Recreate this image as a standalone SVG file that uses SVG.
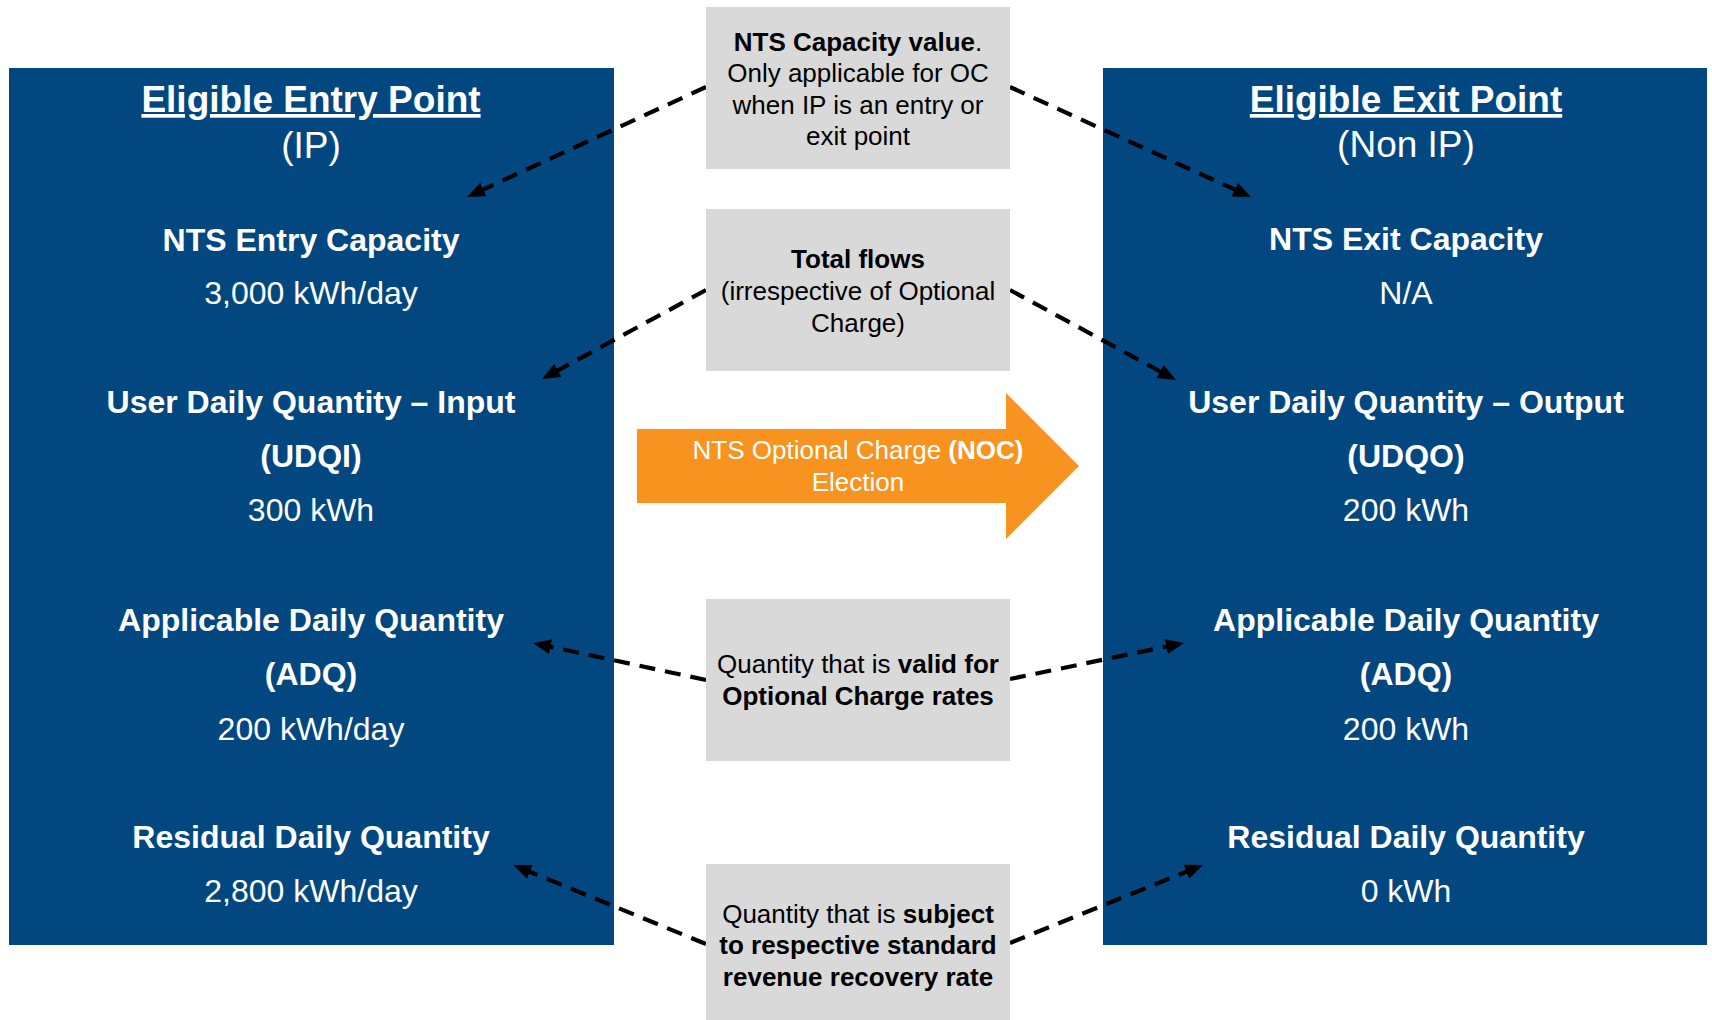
<svg xmlns="http://www.w3.org/2000/svg" width="1712" height="1020" viewBox="0 0 1712 1020">
<style>
text{font-family:"Liberation Sans",Arial,Helvetica,sans-serif;text-anchor:middle}
.blue{fill:#02477F}
.gray{fill:#D9D9D9}
.w{fill:#FFFFFF;font-size:32px}
.hd{fill:#FFFFFF;font-size:37px}
.g{fill:#000000;font-size:26px}
.b{font-weight:bold}
.conn{fill:none;stroke:#000000;stroke-width:4.2;stroke-dasharray:16 10}
</style>
<defs>
<marker id="ah" markerUnits="userSpaceOnUse" markerWidth="20" markerHeight="16" refX="2" refY="7.5" orient="auto" viewBox="0 0 20 15">
<path d="M0,0 L18,7.5 L0,15 z" fill="#000000"/>
</marker>
</defs>
<rect width="1712" height="1020" fill="#FFFFFF"/>
<g id="entry-point">
<rect class="blue" x="9" y="68" width="605" height="877"/>
<text class="hd b" x="311" y="112" text-decoration="underline">Eligible Entry Point</text>
<text class="hd" x="311" y="158">(IP)</text>
<text class="w b" x="311" y="251">NTS Entry Capacity</text>
<text class="w" x="311" y="304">3,000 kWh/day</text>
<text class="w b" x="311" y="413">User Daily Quantity – Input</text>
<text class="w b" x="311" y="467">(UDQI)</text>
<text class="w" x="311" y="521">300 kWh</text>
<text class="w b" x="311" y="631">Applicable Daily Quantity</text>
<text class="w b" x="311" y="685">(ADQ)</text>
<text class="w" x="311" y="740">200 kWh/day</text>
<text class="w b" x="311" y="848">Residual Daily Quantity</text>
<text class="w" x="311" y="902">2,800 kWh/day</text>
</g>
<g id="exit-point">
<rect class="blue" x="1103" y="68" width="604" height="877"/>
<text class="hd b" x="1406" y="112" text-decoration="underline">Eligible Exit Point</text>
<text class="hd" x="1406" y="157">(Non IP)</text>
<text class="w b" x="1406" y="250">NTS Exit Capacity</text>
<text class="w" x="1406" y="304">N/A</text>
<text class="w b" x="1406" y="413">User Daily Quantity – Output</text>
<text class="w b" x="1406" y="467">(UDQO)</text>
<text class="w" x="1406" y="521">200 kWh</text>
<text class="w b" x="1406" y="631">Applicable Daily Quantity</text>
<text class="w b" x="1406" y="685">(ADQ)</text>
<text class="w" x="1406" y="740">200 kWh</text>
<text class="w b" x="1406" y="848">Residual Daily Quantity</text>
<text class="w" x="1406" y="902">0 kWh</text>
</g>
<g id="connectors">
<line class="conn" x1="706" y1="87" x2="481.5" y2="190.3" marker-end="url(#ah)"/>
<line class="conn" x1="1010" y1="87" x2="1236.5" y2="190.4" marker-end="url(#ah)"/>
<line class="conn" x1="706" y1="290" x2="556.1" y2="371.4" marker-end="url(#ah)"/>
<line class="conn" x1="1010" y1="290" x2="1161.9" y2="372.4" marker-end="url(#ah)"/>
<line class="conn" x1="706" y1="680" x2="548.6" y2="646.3" marker-end="url(#ah)"/>
<line class="conn" x1="1010" y1="679" x2="1168.3" y2="646.2" marker-end="url(#ah)"/>
<line class="conn" x1="706" y1="944" x2="528.1" y2="871.1" marker-end="url(#ah)"/>
<line class="conn" x1="1010" y1="943" x2="1188.2" y2="871" marker-end="url(#ah)"/>
</g>
<g id="capacity-note">
<rect class="gray" x="706" y="7" width="304" height="162"/>
<text class="g" x="858" y="51"><tspan class="b">NTS Capacity value</tspan>.</text>
<text class="g" x="858" y="82">Only applicable for OC</text>
<text class="g" x="858" y="114">when IP is an entry or</text>
<text class="g" x="858" y="145">exit point</text>
</g>
<g id="flows-note">
<rect class="gray" x="706" y="209" width="304" height="162"/>
<text class="g b" x="858" y="268">Total flows</text>
<text class="g" x="858" y="300">(irrespective of Optional</text>
<text class="g" x="858" y="332">Charge)</text>
</g>
<g id="noc-election">
<polygon points="637,429 1006,429 1006,393 1079,466 1006,539 1006,503 637,503" fill="#F7931E"/>
<text x="858" y="459" style="fill:#FFFFFF;font-size:26px">NTS Optional Charge <tspan class="b">(NOC)</tspan></text>
<text x="858" y="491" style="fill:#FFFFFF;font-size:26px">Election</text>
</g>
<g id="valid-note">
<rect class="gray" x="706" y="599" width="304" height="162"/>
<text class="g" x="858" y="673">Quantity that is <tspan class="b">valid for</tspan></text>
<text class="g b" x="858" y="705">Optional Charge rates</text>
</g>
<g id="subject-note">
<rect class="gray" x="706" y="864" width="304" height="162"/>
<text class="g" x="858" y="923">Quantity that is <tspan class="b">subject</tspan></text>
<text class="g b" x="858" y="954">to respective standard</text>
<text class="g b" x="858" y="986">revenue recovery rate</text>
</g>
</svg>
